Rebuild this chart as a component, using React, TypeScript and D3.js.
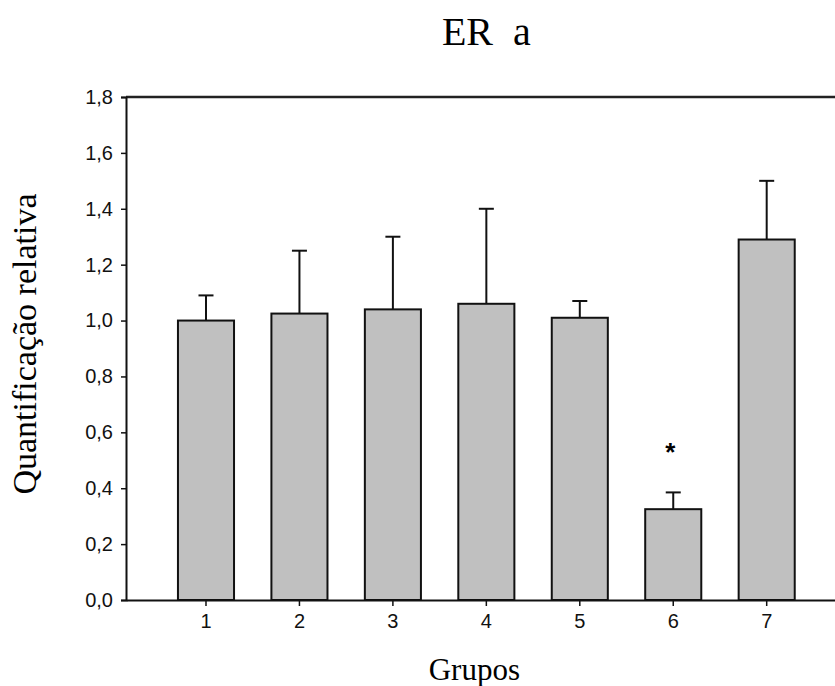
import React, { useEffect, useRef } from "react";
import * as d3 from "d3";

// Groups on the x axis and the relative quantification per group
const GROUPS = ["1", "2", "3", "4", "5", "6", "7"];
const MEANS = [1.0, 1.025, 1.04, 1.06, 1.01, 0.325, 1.29];
const ERRORS = [0.09, 0.225, 0.26, 0.34, 0.06, 0.06, 0.21];
const MARKS = ["", "", "", "", "", "*", ""];
const Y_TICKS = [0, 0.2, 0.4, 0.6, 0.8, 1.0, 1.2, 1.4, 1.6, 1.8];

const TITLE = "ER\u00a0\u00a0a";
const X_LABEL = "Grupos";
const Y_LABEL = "Quantificação relativa";

const ptBR = d3.formatLocale({ decimal: ",", thousands: ".", grouping: [3], currency: ["R$", ""] });
const fmt = ptBR.format(".1f");

function BarChart({ width = 835, height = 686 }) {
  const svgRef = useRef<SVGSVGElement>(null);

  useEffect(() => {
    const svg = d3.select(svgRef.current);
    svg.selectAll("*").remove();

    const left = 126;
    const top = 97;
    const bottom = 600;
    const step = 93.45;
    const pIn = 0.4;
    const pOut = 0.556;
    const right = left + step * (GROUPS.length - pIn + 2 * pOut); // runs past the window, as in the original

    const x = d3.scaleBand().domain(GROUPS).range([left, right]).paddingInner(pIn).paddingOuter(pOut);
    const y = d3.scaleLinear().domain([0, 1.8]).range([bottom, top]);

    const data = GROUPS.map((g, i) => ({ g, v: MEANS[i], e: ERRORS[i], m: MARKS[i] }));

    // error bars (upper only), drawn first so the bar outline covers the stem base
    const eb = svg.append("g").attr("stroke", "#111").attr("stroke-width", 2);
    eb.selectAll("line.stem")
      .data(data)
      .join("line")
      .attr("class", "stem")
      .attr("x1", (d) => x(d.g)! + x.bandwidth() / 2)
      .attr("x2", (d) => x(d.g)! + x.bandwidth() / 2)
      .attr("y1", (d) => y(d.v))
      .attr("y2", (d) => y(d.v + d.e));
    eb.selectAll("line.cap")
      .data(data)
      .join("line")
      .attr("class", "cap")
      .attr("x1", (d) => x(d.g)! + x.bandwidth() / 2 - 7.5)
      .attr("x2", (d) => x(d.g)! + x.bandwidth() / 2 + 7.5)
      .attr("y1", (d) => y(d.v + d.e))
      .attr("y2", (d) => y(d.v + d.e));

    // bars
    svg
      .append("g")
      .selectAll("rect")
      .data(data)
      .join("rect")
      .attr("x", (d) => x(d.g)!)
      .attr("y", (d) => y(d.v))
      .attr("width", x.bandwidth())
      .attr("height", (d) => y(0) - y(d.v))
      .attr("fill", "#c0c0c0")
      .attr("stroke", "#111")
      .attr("stroke-width", 2);

    // significance marks
    svg
      .append("g")
      .selectAll("text")
      .data(data.filter((d) => d.m))
      .join("text")
      .attr("x", (d) => x(d.g)! + x.bandwidth() / 2 - 3)
      .attr("y", y(0.54) + 12)
      .attr("text-anchor", "middle")
      .style("font-family", "'Liberation Sans', Arial, sans-serif")
      .style("font-size", "26px")
      .style("font-weight", "bold")
      .text((d) => d.m);

    // frame: top line
    svg
      .append("line")
      .attr("x1", left)
      .attr("x2", right)
      .attr("y1", top)
      .attr("y2", top)
      .attr("stroke", "#222")
      .attr("stroke-width", 2.5);

    // y axis
    const yAxis = svg
      .append("g")
      .attr("transform", `translate(${left},0)`)
      .call(d3.axisLeft(y).tickValues(Y_TICKS).tickFormat((d) => fmt(d as number)).tickSize(5).tickPadding(8));
    yAxis.select(".domain").attr("stroke", "#111").attr("stroke-width", 2);
    yAxis.selectAll(".tick line").attr("stroke", "#111").attr("stroke-width", 1.5);
    yAxis
      .selectAll(".tick text")
      .attr("fill", "#111")
      .style("font-family", "'Liberation Sans', Arial, sans-serif")
      .style("font-size", "20px");

    // x axis
    const xAxis = svg
      .append("g")
      .attr("transform", `translate(0,${bottom})`)
      .call(d3.axisBottom(x).tickSize(6).tickPadding(8).tickSizeOuter(0));
    xAxis.select(".domain").attr("stroke", "#111").attr("stroke-width", 2);
    xAxis.selectAll(".tick line").attr("stroke", "#111").attr("stroke-width", 1.5);
    xAxis
      .selectAll(".tick text")
      .attr("fill", "#111")
      .style("font-family", "'Liberation Sans', Arial, sans-serif")
      .style("font-size", "20px");

    const plotMid = (left + right) / 2;

    // title
    svg
      .append("text")
      .attr("x", plotMid)
      .attr("y", 45)
      .attr("text-anchor", "middle")
      .style("font-family", "'Liberation Serif', 'Times New Roman', serif")
      .style("font-size", "40px")
      .text(TITLE);

    // axis titles
    svg
      .append("text")
      .attr("x", plotMid - 12)
      .attr("y", 680)
      .attr("text-anchor", "middle")
      .style("font-family", "'Liberation Serif', 'Times New Roman', serif")
      .style("font-size", "31px")
      .text(X_LABEL);

    svg
      .append("text")
      .attr("transform", `translate(36,344) rotate(-90)`)
      .attr("text-anchor", "middle")
      .style("font-family", "'Liberation Serif', 'Times New Roman', serif")
      .style("font-size", "34px")
      .text(Y_LABEL);
  }, [width, height]);

  return (
    <svg
      ref={svgRef}
      width={width}
      height={height}
      style={{ position: "absolute", left: 0, top: 0, background: "#fff" }}
    />
  );
}

export default function App() {
  return <BarChart />;
}
